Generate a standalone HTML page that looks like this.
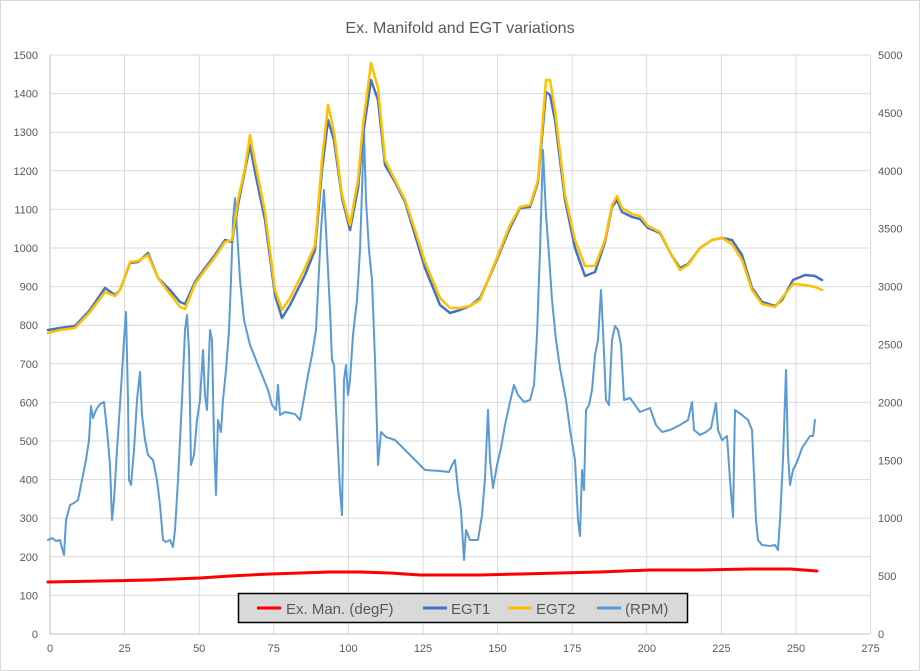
<!DOCTYPE html>
<html><head><meta charset="utf-8"><style>
html,body{margin:0;padding:0;background:#fff}
svg{display:block}
text{font-family:"Liberation Sans",sans-serif;fill:#595959}
</style></head><body>
<svg width="920" height="671" viewBox="0 0 920 671">
<rect x="0.5" y="0.5" width="919" height="670" fill="#fff" stroke="#d9d9d9"/>
<text x="460" y="33" font-size="16" text-anchor="middle">Ex. Manifold and EGT variations</text>
<g stroke="#d9d9d9" stroke-width="1">
<line x1="50" y1="55" x2="870" y2="55"/><line x1="50" y1="93.6" x2="870" y2="93.6"/><line x1="50" y1="132.2" x2="870" y2="132.2"/><line x1="50" y1="170.8" x2="870" y2="170.8"/><line x1="50" y1="209.4" x2="870" y2="209.4"/><line x1="50" y1="248" x2="870" y2="248"/><line x1="50" y1="286.6" x2="870" y2="286.6"/><line x1="50" y1="325.2" x2="870" y2="325.2"/><line x1="50" y1="363.8" x2="870" y2="363.8"/><line x1="50" y1="402.4" x2="870" y2="402.4"/><line x1="50" y1="441" x2="870" y2="441"/><line x1="50" y1="479.6" x2="870" y2="479.6"/><line x1="50" y1="518.2" x2="870" y2="518.2"/><line x1="50" y1="556.8" x2="870" y2="556.8"/><line x1="50" y1="595.4" x2="870" y2="595.4"/>
<line x1="124.6" y1="55" x2="124.6" y2="634"/><line x1="199.2" y1="55" x2="199.2" y2="634"/><line x1="273.8" y1="55" x2="273.8" y2="634"/><line x1="348.4" y1="55" x2="348.4" y2="634"/><line x1="423" y1="55" x2="423" y2="634"/><line x1="497.6" y1="55" x2="497.6" y2="634"/><line x1="572.2" y1="55" x2="572.2" y2="634"/><line x1="646.8" y1="55" x2="646.8" y2="634"/><line x1="721.4" y1="55" x2="721.4" y2="634"/><line x1="796" y1="55" x2="796" y2="634"/><line x1="870.6" y1="55" x2="870.6" y2="634"/>
</g>
<line x1="50" y1="55" x2="50" y2="634" stroke="#bfbfbf"/>
<line x1="50" y1="634" x2="870" y2="634" stroke="#bfbfbf"/>
<g font-size="11" text-anchor="end">
<text x="38" y="59">1500</text><text x="38" y="97.6">1400</text><text x="38" y="136.2">1300</text><text x="38" y="174.8">1200</text><text x="38" y="213.4">1100</text><text x="38" y="252">1000</text><text x="38" y="290.6">900</text><text x="38" y="329.2">800</text><text x="38" y="367.8">700</text><text x="38" y="406.4">600</text><text x="38" y="445">500</text><text x="38" y="483.6">400</text><text x="38" y="522.2">300</text><text x="38" y="560.8">200</text><text x="38" y="599.4">100</text><text x="38" y="638">0</text>
</g>
<g font-size="11" text-anchor="start">
<text x="878" y="59">5000</text><text x="878" y="117">4500</text><text x="878" y="174.8">4000</text><text x="878" y="232.7">3500</text><text x="878" y="290.6">3000</text><text x="878" y="348.5">2500</text><text x="878" y="406.4">2000</text><text x="878" y="464.3">1500</text><text x="878" y="522.2">1000</text><text x="878" y="580.1">500</text><text x="878" y="638">0</text>
</g>
<g font-size="11" text-anchor="middle">
<text x="50" y="652">0</text><text x="124.6" y="652">25</text><text x="199.2" y="652">50</text><text x="273.8" y="652">75</text><text x="348.4" y="652">100</text><text x="423" y="652">125</text><text x="497.6" y="652">150</text><text x="572.2" y="652">175</text><text x="646.8" y="652">200</text><text x="721.4" y="652">225</text><text x="796" y="652">250</text><text x="870.6" y="652">275</text>
</g>
<g fill="none" stroke-width="2.5" stroke-linejoin="round" stroke-linecap="round">
<polyline stroke="#5b9bd5" stroke-width="2" points="48,540 52,538 56,541 60,540 62,548 64,555 66,520 70,505 74,503 78,500 82,480 86,460 89,440 91,406 93,418 96,410 100,404 104,402 107,430 110,465 112,520 114,500 117,450 120,405 124,340 126,312 128,400 129,480 131,485 134,450 137,400 140,372 142,415 145,440 148,455 153,460 157,480 160,505 163,540 166,542 170,540 173,547 175,530 178,480 182,400 185,330 187,315 189,350 191,465 194,455 197,420 200,400 203,350 205,395 207,410 210,330 212,340 214,440 216,495 218,420 221,432 223,400 226,370 229,330 231,280 233,220 235,198 237,230 240,280 244,320 250,345 256,360 262,375 268,390 272,405 276,410 278,385 280,415 285,412 295,414 300,420 304,398 308,375 312,355 316,330 319,270 321,230 324,190 327,250 330,310 332,360 334,365 336,410 338,450 340,490 342,515 344,380 346,365 348,395 350,380 353,335 357,300 360,250 362,190 364,130 366,200 369,250 372,280 375,360 378,465 381,432 386,437 395,440 405,450 415,460 425,470 440,471 449,472 452,465 455,460 458,490 461,510 464,560 466,530 470,540 478,540 482,515 485,478 488,410 490,460 493,488 497,465 501,448 505,425 510,402 514,385 518,395 524,402 530,400 534,385 537,335 540,250 543,150 546,215 549,255 552,300 556,340 560,368 566,400 570,430 575,460 578,520 580,536 582,470 584,490 586,410 589,405 592,390 595,355 598,340 601,290 603,330 606,400 609,405 612,340 615,326 618,330 621,345 624,400 630,398 640,412 650,408 656,425 662,432 670,430 680,425 688,420 692,402 694,430 700,435 706,432 711,428 716,403 718,430 722,440 727,436 730,480 733,517 735,410 742,415 748,420 752,430 756,520 758,540 762,545 770,546 775,545 778,550 780,520 783,460 786,370 788,455 790,485 793,470 797,462 802,448 806,442 810,436 813,436 815,420"/>
<polyline stroke="#ff0000" stroke-width="3" points="48,582 100,581 150,580 200,578 230,576 270,574 300,573 330,572 360,572 390,573 420,575 450,575 480,575 520,574 560,573 600,572 650,570 700,570 750,569 790,569 817,571"/>
<polyline stroke="#4472c4" points="48,330 60,328 75,326 90,310 105,288 115,295 120,290 130,263 138,262 148,253 158,278 170,290 180,302 185,304 195,282 205,268 215,255 225,240 232,242 238,205 245,170 250,145 255,172 265,220 275,295 282,318 290,305 305,275 315,250 322,170 328,120 334,140 342,198 350,230 358,188 363,135 371,80 378,100 385,165 395,182 405,202 415,235 425,268 440,305 450,313 460,310 470,306 480,298 490,276 500,252 510,228 520,208 530,207 538,182 546,92 550,95 555,120 565,200 575,248 585,276 595,272 605,242 612,207 617,200 622,212 632,217 640,219 648,228 660,233 672,256 680,268 688,264 700,248 712,240 722,238 732,240 742,255 752,288 762,302 775,306 782,300 793,280 805,275 815,276 822,280"/>
<polyline stroke="#ffc000" points="48,333 60,330 75,328 90,312 105,292 115,296 120,290 130,262 138,261 148,255 158,278 170,294 180,307 185,309 195,284 205,270 215,257 225,242 232,240 238,200 245,168 250,135 255,162 265,212 275,290 282,310 290,298 305,268 315,245 322,160 328,105 334,132 342,195 350,225 358,180 363,125 371,63 378,88 385,160 395,180 405,200 415,230 425,262 440,298 450,308 460,308 470,306 480,300 490,275 500,250 510,225 520,207 530,205 538,180 546,80 550,80 555,110 565,195 575,240 585,266 595,266 605,240 612,205 617,196 622,208 632,214 640,216 648,226 660,232 672,256 680,270 688,265 700,248 712,240 722,238 732,244 742,260 752,290 762,304 775,307 782,298 793,284 805,285 815,287 822,290"/>
</g>
<rect x="238.5" y="593.5" width="449" height="29" fill="#d9d9d9" stroke="#000" stroke-width="1.5"/>
<g font-size="15" fill="#404040">
<line x1="257" y1="608" x2="281" y2="608" stroke="#ff0000" stroke-width="3"/><text x="286" y="614">Ex. Man. (degF)</text>
<line x1="423" y1="608" x2="447" y2="608" stroke="#4472c4" stroke-width="3"/><text x="451" y="614">EGT1</text>
<line x1="508" y1="608" x2="532" y2="608" stroke="#ffc000" stroke-width="3"/><text x="536" y="614">EGT2</text>
<line x1="597" y1="608" x2="621" y2="608" stroke="#5b9bd5" stroke-width="3"/><text x="625" y="614">(RPM)</text>
</g>
</svg>
</body></html>
